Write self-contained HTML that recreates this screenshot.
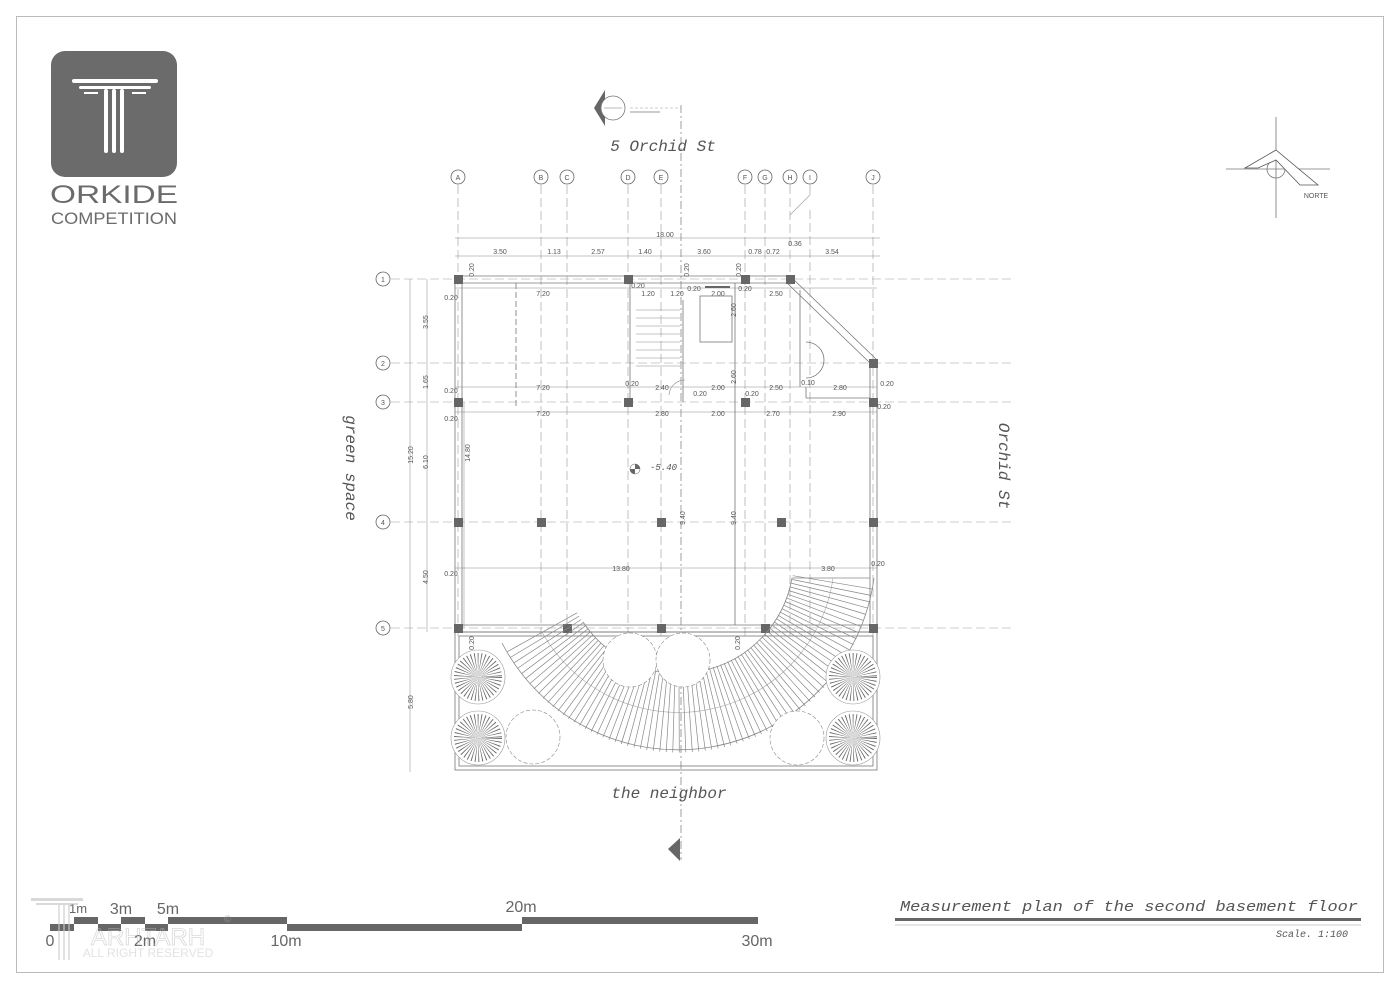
<!DOCTYPE html>
<html><head><meta charset="utf-8"><style>
html,body{margin:0;padding:0;background:#fff;width:1400px;height:990px;overflow:hidden}
svg{display:block}
.t{font-family:"Liberation Sans",sans-serif;fill:#555;font-size:7px}
.m{font-family:"Liberation Mono",monospace;font-style:italic;fill:#555}
</style></head><body>
<svg width="1400" height="990" viewBox="0 0 1400 990" xmlns="http://www.w3.org/2000/svg">
<rect x="16.5" y="16.5" width="1367" height="956" fill="none" stroke="#bbb" stroke-width="1"/>

<!-- logo -->
<rect x="51" y="51" width="126" height="126" rx="14" fill="#6b6b6b"/>
<rect x="72" y="79" width="86" height="4" rx="2" fill="#fff"/>
<rect x="79" y="86" width="72" height="3" rx="1.5" fill="#fff"/>
<rect x="84" y="92" width="14" height="2" fill="#fff"/>
<rect x="132" y="92" width="14" height="2" fill="#fff"/>
<rect x="104" y="89" width="4" height="64" rx="2" fill="#fff"/>
<rect x="112" y="89" width="4" height="64" rx="2" fill="#fff"/>
<rect x="120" y="89" width="4" height="64" rx="2" fill="#fff"/>
<text x="50" y="203" font-family="Liberation Sans,sans-serif" font-size="25" fill="#6b6b6b" textLength="128" lengthAdjust="spacingAndGlyphs">ORKIDE</text>
<text x="51" y="224" font-family="Liberation Sans,sans-serif" font-size="17" fill="#6b6b6b" textLength="126" lengthAdjust="spacingAndGlyphs">COMPETITION</text>

<!-- north -->
<g stroke="#777" fill="none" stroke-width="0.8">
<line x1="1276" y1="117" x2="1276" y2="218"/>
<line x1="1226" y1="169" x2="1330" y2="169"/>
<circle cx="1276" cy="169" r="9"/>
<path d="M1245 168 L1276 150 L1318 185 L1300 185 L1276 160 L1258 168 Z" fill="#fff" stroke="#555"/>
</g>
<text x="1316" y="198" class="t" font-size="9" text-anchor="middle">NORTE</text>

<!-- section marker top -->
<path d="M605 90 L594 108 L605 126 Z" fill="#666"/>
<circle cx="613" cy="108" r="12" fill="#fff" stroke="#777" stroke-width="0.8"/>
<line x1="604" y1="108" x2="622" y2="108" stroke="#777" stroke-width="0.5"/>
<line x1="630" y1="112" x2="660" y2="112" stroke="#777" stroke-width="0.8"/>
<path d="M681 105 L681 860" stroke="#888" stroke-width="0.8" stroke-dasharray="8 3 2 3"/>
<line x1="630" y1="108" x2="681" y2="108" stroke="#999" stroke-width="0.6" stroke-dasharray="3 2"/>
<path d="M680 838 L668 849 L680 861 Z" fill="#666"/>

<text x="663" y="151" class="m" font-size="16" text-anchor="middle">5 Orchid St</text>
<text x="669" y="798" class="m" font-size="16" text-anchor="middle">the neighbor</text>
<text class="m" font-size="16" text-anchor="middle" transform="translate(346,468) rotate(90)">green space</text>
<text class="m" font-size="16" text-anchor="middle" transform="translate(999,466) rotate(90)">Orchid St</text>

<!-- grid lines -->
<g stroke="#999" stroke-width="0.6" stroke-dasharray="9 4">
<line x1="458" y1="185" x2="458" y2="640"/><line x1="541" y1="185" x2="541" y2="640"/>
<line x1="567" y1="185" x2="567" y2="640"/><line x1="628" y1="185" x2="628" y2="640"/>
<line x1="661" y1="185" x2="661" y2="640"/><line x1="745" y1="185" x2="745" y2="640"/>
<line x1="765" y1="185" x2="765" y2="640"/><line x1="790" y1="185" x2="790" y2="640"/>
<line x1="810" y1="210" x2="810" y2="640"/><line x1="873" y1="185" x2="873" y2="640"/>
<line x1="391" y1="279" x2="1015" y2="279"/><line x1="391" y1="363" x2="1015" y2="363"/>
<line x1="391" y1="402" x2="1015" y2="402"/><line x1="391" y1="522" x2="1015" y2="522"/>
<line x1="391" y1="628" x2="1015" y2="628"/>
</g>
<path d="M810 185 L810 195 L790 215" stroke="#999" stroke-width="0.6" fill="none"/>
<g fill="#fff" stroke="#666" stroke-width="0.8">
<circle cx="458" cy="177" r="7"/><circle cx="541" cy="177" r="7"/><circle cx="567" cy="177" r="7"/>
<circle cx="628" cy="177" r="7"/><circle cx="661" cy="177" r="7"/><circle cx="745" cy="177" r="7"/>
<circle cx="765" cy="177" r="7"/><circle cx="790" cy="177" r="7"/><circle cx="810" cy="177" r="7"/>
<circle cx="873" cy="177" r="7"/>
<circle cx="383" cy="279" r="7"/><circle cx="383" cy="363" r="7"/><circle cx="383" cy="402" r="7"/>
<circle cx="383" cy="522" r="7"/><circle cx="383" cy="628" r="7"/>
</g>
<g class="t" font-size="8" text-anchor="middle">
<text x="458" y="180">A</text><text x="541" y="180">B</text><text x="567" y="180">C</text><text x="628" y="180">D</text>
<text x="661" y="180">E</text><text x="745" y="180">F</text><text x="765" y="180">G</text><text x="790" y="180">H</text>
<text x="810" y="180">I</text><text x="873" y="180">J</text>
<text x="383" y="282">1</text><text x="383" y="366">2</text><text x="383" y="405">3</text><text x="383" y="525">4</text><text x="383" y="631">5</text>
</g>

<!-- dims -->
<g stroke="#888" stroke-width="0.5">
<line x1="455" y1="238" x2="880" y2="238"/><line x1="455" y1="256" x2="880" y2="256"/>
<line x1="410" y1="279" x2="410" y2="772"/><line x1="427" y1="279" x2="427" y2="632"/>
<line x1="464" y1="402" x2="464" y2="628"/>
<line x1="455" y1="288" x2="877" y2="288"/><line x1="455" y1="387" x2="877" y2="387"/>
<line x1="455" y1="412" x2="877" y2="412"/><line x1="455" y1="568" x2="877" y2="568"/>
</g>
<g class="t" text-anchor="middle">
<text x="665" y="237">18.00</text><text x="500" y="254">3.50</text><text x="554" y="254">1.13</text><text x="598" y="254">2.57</text>
<text x="645" y="254">1.40</text><text x="704" y="254">3.60</text><text x="755" y="254">0.78</text><text x="773" y="254">0.72</text>
<text x="795" y="246">0.36</text><text x="832" y="254">3.54</text>
<text x="543" y="296">7.20</text><text x="648" y="296">1.20</text><text x="677" y="296">1.20</text><text x="718" y="296">2.00</text><text x="776" y="296">2.50</text>
<text x="543" y="390">7.20</text><text x="662" y="390">2.40</text><text x="718" y="390">2.00</text><text x="776" y="390">2.50</text><text x="840" y="390">2.80</text><text x="808" y="385">0.10</text>
<text x="543" y="416">7.20</text><text x="662" y="416">2.80</text><text x="718" y="416">2.00</text><text x="773" y="416">2.70</text><text x="839" y="416">2.90</text>
<text x="621" y="571">13.80</text><text x="828" y="571">3.80</text>
<text x="451" y="300">0.20</text><text x="451" y="393">0.20</text><text x="451" y="421">0.20</text><text x="451" y="576">0.20</text>
<text x="638" y="288">0.20</text><text x="632" y="386">0.20</text><text x="694" y="291">0.20</text><text x="745" y="291">0.20</text>
<text x="700" y="396">0.20</text><text x="752" y="396">0.20</text><text x="887" y="386">0.20</text><text x="884" y="409">0.20</text><text x="878" y="566">0.20</text>
</g>
<g class="t" text-anchor="middle">
<text transform="translate(428,322) rotate(-90)">3.55</text><text transform="translate(428,382) rotate(-90)">1.65</text>
<text transform="translate(413,455) rotate(-90)">15.20</text><text transform="translate(428,462) rotate(-90)">6.10</text>
<text transform="translate(470,453) rotate(-90)">14.80</text><text transform="translate(428,577) rotate(-90)">4.50</text>
<text transform="translate(413,702) rotate(-90)">5.80</text><text transform="translate(685,518) rotate(-90)">9.40</text>
<text transform="translate(736,518) rotate(-90)">9.40</text><text transform="translate(736,310) rotate(-90)">2.60</text>
<text transform="translate(736,377) rotate(-90)">2.60</text><text transform="translate(474,270) rotate(-90)">0.20</text>
<text transform="translate(689,270) rotate(-90)">0.20</text><text transform="translate(741,270) rotate(-90)">0.20</text>
<text transform="translate(474,643) rotate(-90)">0.20</text><text transform="translate(740,643) rotate(-90)">0.20</text>
<text transform="translate(692,647) rotate(-90)">0.20</text>
</g>

<!-- building walls -->
<g fill="none" stroke="#777" stroke-width="0.8">
<path d="M455 276 L790 276 L877 360 L877 632 L455 632 Z"/>
<path d="M462 283 L787 283 L870 363 L870 625 L462 625 Z"/>
<rect x="455" y="632" width="422" height="138"/>
<rect x="459" y="636" width="414" height="130"/>
<line x1="516" y1="283" x2="516" y2="408" stroke-dasharray="6 3"/>
<line x1="630" y1="283" x2="630" y2="402"/><line x1="683" y1="300" x2="683" y2="402"/>
<rect x="700" y="296" width="32" height="46"/>
<line x1="735" y1="283" x2="735" y2="625"/><line x1="800" y1="290" x2="800" y2="387"/>
<line x1="806" y1="387" x2="806" y2="398"/><line x1="806" y1="398" x2="870" y2="398"/>
<path d="M806 342 A18 18 0 0 1 806 378"/>
</g>
<g stroke="#888" stroke-width="0.5">
<line x1="636" y1="310" x2="680" y2="310"/><line x1="636" y1="318" x2="680" y2="318"/><line x1="636" y1="326" x2="680" y2="326"/>
<line x1="636" y1="334" x2="680" y2="334"/><line x1="636" y1="342" x2="680" y2="342"/><line x1="636" y1="350" x2="680" y2="350"/>
<line x1="636" y1="358" x2="680" y2="358"/><line x1="636" y1="366" x2="680" y2="366"/>
</g>
<path d="M669 395 A16 16 0 0 1 685 380" fill="none" stroke="#888" stroke-width="0.6"/>
<line x1="705" y1="287" x2="730" y2="287" stroke="#666" stroke-width="2"/>
<circle cx="635" cy="469" r="5" fill="#fff" stroke="#777" stroke-width="0.6"/>
<path d="M635 464 A5 5 0 0 1 640 469 L635 469 Z M635 474 A5 5 0 0 1 630 469 L635 469 Z" fill="#666"/>
<text x="650" y="470" class="m" font-size="9">-5.40</text>

<!-- columns -->
<g fill="#666">
<rect x="454" y="275" width="9" height="9"/><rect x="624" y="275" width="9" height="9"/><rect x="741" y="275" width="9" height="9"/><rect x="786" y="275" width="9" height="9"/>
<rect x="869" y="359" width="9" height="9"/>
<rect x="454" y="398" width="9" height="9"/><rect x="624" y="398" width="9" height="9"/><rect x="741" y="398" width="9" height="9"/><rect x="869" y="398" width="9" height="9"/>
<rect x="454" y="518" width="9" height="9"/><rect x="537" y="518" width="9" height="9"/><rect x="657" y="518" width="9" height="9"/><rect x="777" y="518" width="9" height="9"/><rect x="869" y="518" width="9" height="9"/>
<rect x="454" y="624" width="9" height="9"/><rect x="563" y="624" width="9" height="9"/><rect x="657" y="624" width="9" height="9"/><rect x="761" y="624" width="9" height="9"/><rect x="869" y="624" width="9" height="9"/>
</g>

<!-- curved stair: center (678,558) -->
<g fill="none">
<path d="M583 622 A115 115 0 0 0 792 578" stroke="#888" stroke-width="0.8"/>
<path d="M792 578 L870 578" stroke="#888" stroke-width="0.8"/>
<path d="M502 643 A198 198 0 0 0 874 578" stroke="#888" stroke-width="0.8"/>
<path d="M542 632 A156 156 0 0 0 833 578" stroke="#aaa" stroke-width="0.6"/>
<path d="M542 632 A156 156 0 0 0 833 578" stroke="#888" stroke-width="80" stroke-dasharray="0.7 4.5"/>
<rect x="455" y="575" width="0" height="0"/>
</g>
<!-- mask stair parts above wall row into courtyard only where it belongs (right band continues up) -->
<!-- trees -->
<g fill="#fff" stroke="#888" stroke-width="0.6">
<circle cx="630" cy="660" r="27" stroke-dasharray="4 2"/><circle cx="683" cy="660" r="27" stroke-dasharray="4 2"/>
<circle cx="533" cy="737" r="27" stroke-dasharray="4 2"/><circle cx="797" cy="738" r="27" stroke-dasharray="4 2"/>
</g>
<g fill="#fff" stroke="#999" stroke-width="0.6">
<circle cx="478" cy="677" r="27"/><circle cx="478" cy="738" r="27"/><circle cx="853" cy="677" r="27"/><circle cx="853" cy="738" r="27"/>
</g>
<g fill="none" stroke="#666">
<circle cx="478" cy="677" r="12" stroke-width="24" stroke-dasharray="0.5 1.5"/>
<circle cx="478" cy="738" r="12" stroke-width="24" stroke-dasharray="0.5 1.5"/>
<circle cx="853" cy="677" r="12" stroke-width="24" stroke-dasharray="0.5 1.5"/>
<circle cx="853" cy="738" r="12" stroke-width="24" stroke-dasharray="0.5 1.5"/>
</g>

<!-- title -->
<text x="900" y="911" class="m" font-size="15" textLength="458" lengthAdjust="spacingAndGlyphs">Measurement plan of the second basement floor</text>
<rect x="895" y="918" width="466" height="3" fill="#666"/>
<line x1="895" y1="925" x2="1361" y2="925" stroke="#999" stroke-width="0.6"/>
<text x="1348" y="937" class="m" font-size="10" fill="#888" text-anchor="end">Scale. 1:100</text>

<!-- scale bar -->
<g fill="#666">
<rect x="50" y="924" width="24" height="7"/><rect x="74" y="917" width="24" height="7"/>
<rect x="98" y="924" width="23" height="7"/><rect x="121" y="917" width="24" height="7"/>
<rect x="145" y="924" width="23" height="7"/><rect x="168" y="917" width="119" height="7"/>
<rect x="287" y="924" width="235" height="7"/><rect x="522" y="917" width="236" height="7"/>
</g>
<g font-family="Liberation Sans,sans-serif" font-size="16" fill="#666" text-anchor="middle">
<text x="78" y="913" font-size="13">1m</text><text x="121" y="914">3m</text><text x="168" y="914">5m</text><text x="521" y="912">20m</text>
<text x="50" y="946">0</text><text x="145" y="946">2m</text><text x="286" y="946">10m</text><text x="757" y="946">30m</text>
</g>
<g opacity="0.55">
<rect x="31" y="898" width="52" height="3" fill="#bbb"/><rect x="36" y="903" width="42" height="2" fill="#bbb"/>
<rect x="58" y="905" width="2" height="55" fill="#ccc"/><rect x="63" y="905" width="2" height="55" fill="#ccc"/><rect x="68" y="905" width="2" height="55" fill="#ccc"/>
<text x="148" y="945" font-family="Liberation Sans,sans-serif" font-size="24" fill="none" stroke="#bbb" stroke-width="0.8" text-anchor="middle">ARHTARH</text>
<text x="148" y="957" font-family="Liberation Sans,sans-serif" font-size="12" fill="#ccc" text-anchor="middle">ALL RIGHT RESERVED</text>
<text x="224" y="922" font-family="Liberation Sans,sans-serif" font-size="10" fill="#aaa">©</text>
</g>
</svg>
</body></html>
